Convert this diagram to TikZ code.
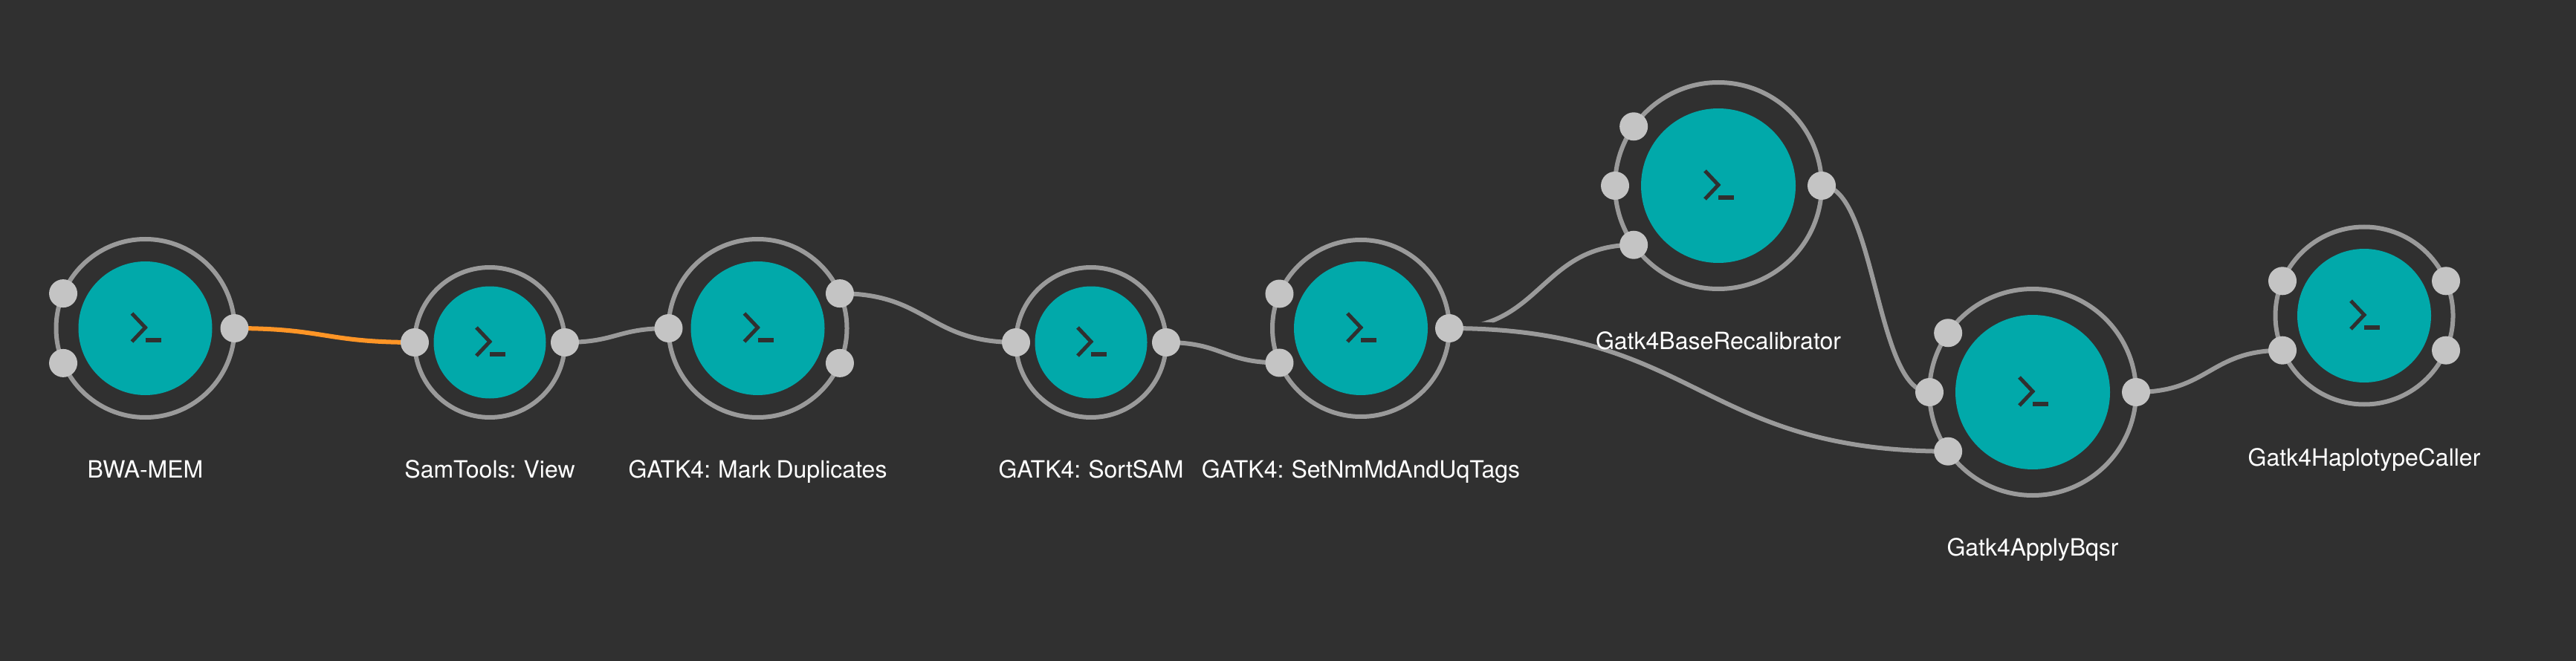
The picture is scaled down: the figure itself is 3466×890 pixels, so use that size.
\documentclass[tikz,border=0pt]{standalone}
\usepackage{fontspec}
\setmainfont{TeX Gyre Heros}[WordSpace=0.8]
\usetikzlibrary{positioning,calc}
\pgfdeclarelayer{wires}
\pgfsetlayers{wires,main}

\definecolor{pagebg}{HTML}{303030}
\definecolor{toolteal}{HTML}{01A9AA}
\definecolor{ringgray}{HTML}{9A9A9A}
\definecolor{portgray}{HTML}{C4C4C4}
\definecolor{wirehot}{HTML}{FF9526}

\tikzset{
    ring/.style={circle,draw=ringgray,line width=6pt,inner sep=0pt,outer sep=0pt,minimum size=#1},
    core/.style={circle,fill=toolteal,inner sep=0pt,outer sep=0pt,minimum size=#1},
    port/.style={circle,fill=portgray,inner sep=0pt,outer sep=0pt,minimum size=38pt},
    tag/.style={text=white,inner sep=0pt,text height=24pt,text depth=7pt,font=\fontsize{32}{38}\selectfont},
    prompt/.style={draw=pagebg,line width=5pt,line join=miter},
    wire/.style={draw=pagebg,line width=6.5pt,double=ringgray,double distance=6pt,
        to path={let \p1=(\tikztostart.center),\p2=(\tikztotarget.center) in
            (\p1) .. controls ({(\x1+\x2)/2},\y1) and ({(\x1+\x2)/2},\y2) .. (\p2)}}
}

\begin{document}
\begin{tikzpicture}[x=1pt,y=-1pt,on grid]
    \useasboundingbox (0,0) rectangle (3466,890);

    \node[ring=240pt]   (bwa)   at (195.5,442) {};
    \node[ring=202pt]   (view)  [right=463.5pt of bwa,yshift=-19pt] {};
    \node[ring=240pt]   (dup)   [right=360.5pt of view,yshift=19pt] {};
    \node[ring=202pt]   (sort)  [right=448.5pt of dup,yshift=-19pt] {};
    \node[ring=238pt]   (set)   [right=363pt of sort,yshift=19pt] {};
    \node[ring=278pt]   (base)  [right=481pt of set,yshift=192pt] {};
    \node[ring=278pt]   (apply) [right=423pt of base,yshift=-278pt] {};
    \node[ring=239pt]   (hap)   [right=446pt of apply,yshift=103pt] {};

    \node[core=180pt]   (bwaCore)   at (bwa)   {};
    \node[core=151pt]   (viewCore)  at (view)  {};
    \node[core=180pt]   (dupCore)   at (dup)   {};
    \node[core=151pt]   (sortCore)  at (sort)  {};
    \node[core=180pt]   (setCore)   at (set)   {};
    \node[core=208pt]   (baseCore)  at (base)  {};
    \node[core=208pt]   (applyCore) at (apply) {};
    \node[core=180pt]   (hapCore)   at (hap)   {};

    \foreach \t in {bwa,view,dup,sort,set,base,apply,hap} {
        \draw[prompt] ([shift={(-18,-20)}]\t.center) -- ([shift={(0,-1)}]\t.center) -- ([shift={(-18,18)}]\t.center);
        \draw[prompt,line width=5.5pt] ([shift={(0,16)}]\t.center) -- ([shift={(21,16)}]\t.center);
    }

    \node[port] (bwaUp)    at (bwa.157)  {};
    \node[port] (bwaDown)  at (bwa.203)  {};
    \node[port] (bwaOut)   at (bwa.0)    {};
    \node[port] (viewIn)   at (view.180) {};
    \node[port] (viewOut)  at (view.0)   {};
    \node[port] (dupIn)    at (dup.180)  {};
    \node[port] (dupUp)    at (dup.23)   {};
    \node[port] (dupDown)  at (dup.-23)  {};
    \node[port] (sortIn)   at (sort.180) {};
    \node[port] (sortOut)  at (sort.0)   {};
    \node[port] (setUp)    at (set.157)  {};
    \node[port] (setDown)  at (set.203)  {};
    \node[port] (setOut)   at (set.0)    {};
    \node[port] (baseUp)   at (base.145) {};
    \node[port] (baseMid)  at (base.180) {};
    \node[port] (baseDown) at (base.215) {};
    \node[port] (baseOut)  at (base.0)   {};
    \node[port] (applyUp)  at (apply.145) {};
    \node[port] (applyMid) at (apply.180) {};
    \node[port] (applyDown) at (apply.215) {};
    \node[port] (applyOut) at (apply.0)  {};
    \node[port] (hapUp)    at (hap.157)  {};
    \node[port] (hapDown)  at (hap.203)  {};
    \node[port] (hapOutA)  at (hap.23)   {};
    \node[port] (hapOutB)  at (hap.-23)  {};

    \node[tag] (bwaTag)   [below=192.5pt of bwa]   {BWA-MEM};
    \node[tag] (viewTag)  [below=173.5pt of view]  {SamTools: View};
    \node[tag] (dupTag)   [below=192.5pt of dup]   {GATK4: Mark Duplicates};
    \node[tag] (sortTag)  [below=173.5pt of sort]  {GATK4: SortSAM};
    \node[tag] (setTag)   [below=192.5pt of set]   {GATK4: SetNmMdAndUqTags};
    \node[tag] (baseTag)  [below=211.5pt of base]  {Gatk4BaseRecalibrator};
    \node[tag] (applyTag) [below=211.5pt of apply] {Gatk4ApplyBqsr};
    \node[tag] (hapTag)   [below=193.5pt of hap]   {Gatk4HaplotypeCaller};

    \begin{pgfonlayer}{wires}
        \fill[pagebg] (0,0) rectangle (3466,890);
        \draw[wire,double=wirehot] (bwaOut) to (viewIn);
        \draw[wire] (viewOut) to (dupIn);
        \draw[wire] (dupUp) to (sortIn);
        \draw[wire] (sortOut) to (setDown);
        \draw[wire] (setOut) to (baseDown);
        \draw[wire] (setOut) to (applyDown);
        \draw[wire] (baseOut) to (applyMid);
        \draw[wire] (applyOut) to (hapDown);
    \end{pgfonlayer}
\end{tikzpicture}
\end{document}
